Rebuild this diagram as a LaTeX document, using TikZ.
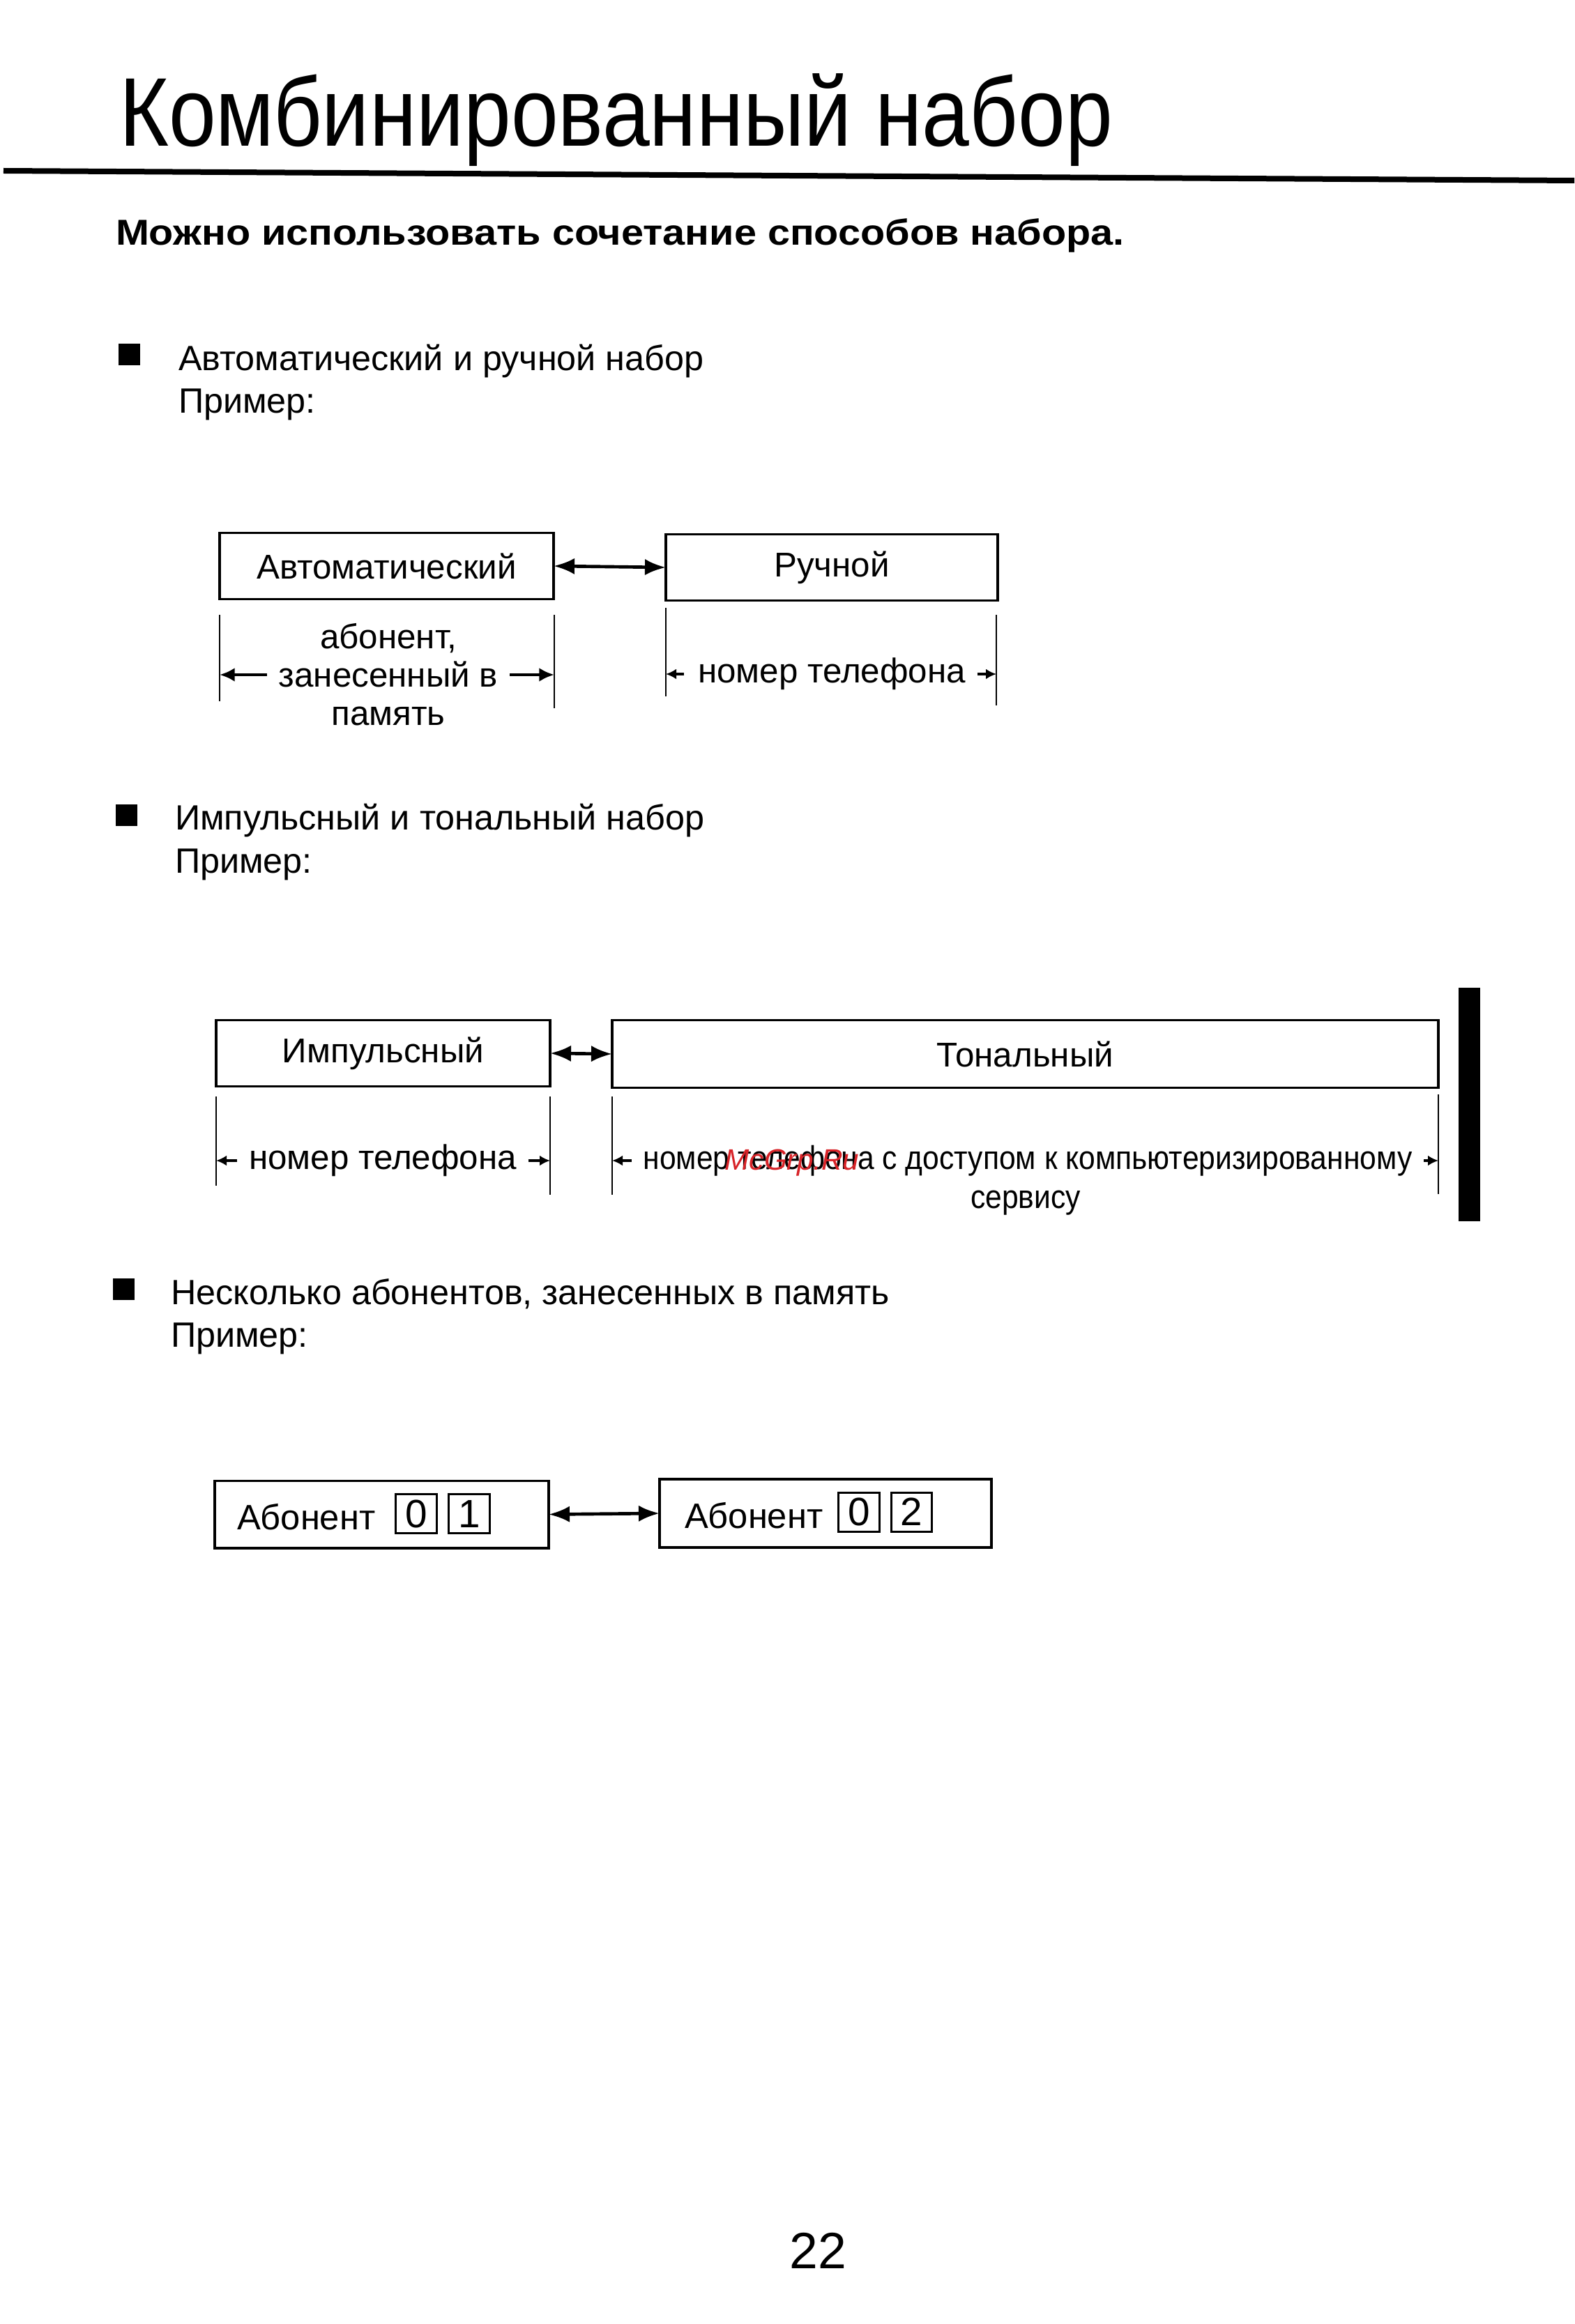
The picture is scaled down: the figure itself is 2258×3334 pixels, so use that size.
\documentclass[tikz,border=0pt]{standalone}
\usepackage{fontspec}
\setmainfont{Liberation Sans}
\newfontfamily\titlefont[FakeStretch=0.87]{Liberation Sans}
\newfontfamily\subfont[FakeStretch=1.115]{Liberation Sans}
\newfontfamily\narrowfont[FakeStretch=0.9]{Liberation Sans}
\usetikzlibrary{arrows.meta}
\definecolor{wmred}{RGB}{215,35,40}
\newcommand{\boxfs}{\fontsize{14.8}{17}\selectfont}
\newcommand{\bodyfs}{\fontsize{15.1}{18}\selectfont}
\begin{document}
\begin{tikzpicture}[x=0.3pt,y=-0.3pt,
  every node/.style={inner sep=0pt, outer sep=0pt},
  frame/.style={draw, line width=1pt, font=\boxfs},
  bodytxt/.style={anchor=base west, font=\bodyfs},
  sq/.style={fill=black, minimum size=9.3pt},
  vline/.style={line width=0.7pt},
  link/.style={line width=1.4pt, {Latex[length=9pt,width=7pt]}-{Latex[length=9pt,width=7pt]}},
  dimlong/.style={line width=1.3pt, -{Latex[length=6.5pt,width=6pt]}},
  dimshort/.style={line width=1.2pt, -{Latex[length=4.5pt,width=4.5pt]}},
  keybox/.style={draw, line width=0.9pt, minimum width=17.6pt, minimum height=16.8pt, font=\fontsize{17}{19}\selectfont}
]
\useasboundingbox (0,0) rectangle (2258,3334);

% title
\node[anchor=base west, font=\titlefont\fontsize{42}{48}\selectfont] (title) at (171,210) {Комбинированный набор};
\coordinate (ruleL) at (5,245);
\coordinate (ruleR) at (2258,259);
\draw[line width=2.4pt] (ruleL) -- (ruleR);
\node[anchor=base west, font=\subfont\bfseries\fontsize{15.5}{18}\selectfont] (sub) at (166,352) {Можно использовать сочетание способов набора.};

% section 1
\node[sq] (b1) at (185,509) {};
\node[bodytxt] (h1) at (256,531) {Автоматический и ручной набор};
\node[bodytxt] (e1) at (256,593) {Пример:};

\node[frame, minimum width=143.7pt, minimum height=28.4pt] (A1) at (554.5,812) {Автоматический};
\node[frame, minimum width=142.8pt, minimum height=28.4pt] (R1) at (1193,814) {Ручной};
\draw[link] (A1.east) -- (R1.west);

\coordinate (vA1t) at (315,882); \coordinate (vA1b) at (315,1006);
\coordinate (vA2t) at (795,882); \coordinate (vA2b) at (795,1016);
\coordinate (vR1t) at (955,872); \coordinate (vR1b) at (955,999);
\coordinate (vR2t) at (1429,882); \coordinate (vR2b) at (1429,1012);
\draw[vline] (vA1t) -- (vA1b);
\draw[vline] (vA2t) -- (vA2b);
\draw[vline] (vR1t) -- (vR1b);
\draw[vline] (vR2t) -- (vR2b);

\node[align=center, font=\fontsize{14.8}{16.5}\selectfont] (dA) at (557,968) {абонент,\\занесенный в\\память};
\draw[dimlong] ([xshift=-5pt]dA.west) -- (dA.west -| vA1t);
\draw[dimlong] ([xshift=5pt]dA.east) -- (dA.east -| vA2t);

\node[font=\boxfs] (dR) at (1193,967) {номер телефона};
\draw[dimshort] ([xshift=-6pt]dR.west) -- (dR.west -| vR1t);
\draw[dimshort] ([xshift=5pt]dR.east) -- (dR.east -| vR2t);

% section 2
\node[sq] (b2) at (181,1169) {};
\node[bodytxt] (h2) at (251,1190) {Импульсный и тональный набор};
\node[bodytxt] (e2) at (251,1252) {Пример:};

\node[frame, minimum width=143.7pt, minimum height=28.5pt] (I1) at (549.5,1511) {Импульсный};
\node[frame, minimum width=355.5pt, minimum height=29pt] (T1) at (1470.5,1512) {Тональный};
\draw[link] (I1.east) -- (T1.west);

\coordinate (vI1t) at (310,1573); \coordinate (vI1b) at (310,1701);
\coordinate (vI2t) at (789,1573); \coordinate (vI2b) at (789,1714);
\coordinate (vT1t) at (878,1573); \coordinate (vT1b) at (878,1714);
\coordinate (vT2t) at (2063,1570); \coordinate (vT2b) at (2063,1713);
\draw[vline] (vI1t) -- (vI1b);
\draw[vline] (vI2t) -- (vI2b);
\draw[vline] (vT1t) -- (vT1b);
\draw[vline] (vT2t) -- (vT2b);

\node[font=\boxfs] (dI) at (549,1665) {номер телефона};
\draw[dimshort] ([xshift=-5pt]dI.west) -- (dI.west -| vI1t);
\draw[dimshort] ([xshift=5pt]dI.east) -- (dI.east -| vI2t);

\node[font=\narrowfont\fontsize{14.2}{17}\selectfont] (dT) at (1474,1665) {номер телефона с доступом к компьютеризированному};
\node[font=\narrowfont\fontsize{14.2}{17}\selectfont] (dT2) at (1471,1726) {сервису};
\draw[dimshort] ([xshift=-5pt]dT.west) -- (dT.west -| vT1t);
\draw[dimshort] ([xshift=5pt]dT.east) -- (dT.east -| vT2t);

\node[text=wmred, font=\itshape\fontsize{12.7}{15}\selectfont] (wm) at (1136,1668) {McGrp.Ru};

\node[fill=black, minimum width=9.3pt, minimum height=100.5pt] (bar) at (2107.5,1584.5) {};

% section 3
\node[sq] (b3) at (177,1849) {};
\node[bodytxt] (h3) at (245,1871) {Несколько абонентов, занесенных в память};
\node[bodytxt] (e3) at (245,1932) {Пример:};

\node[frame, minimum width=143.7pt, minimum height=29pt] (S1) at (547.5,2172.5) {};
\node[frame, minimum width=142.8pt, minimum height=29.4pt] (S2) at (1184,2171) {};
\node[anchor=west, font=\fontsize{15.2}{17}\selectfont] (S1t) at (340,2176) {Абонент};
\node[anchor=west, font=\fontsize{15.2}{17}\selectfont] (S2t) at (982,2174) {Абонент};
\node[keybox] (k10) at (597,2171.5) {0};
\node[keybox] (k11) at (673,2171.5) {1};
\node[keybox] (k20) at (1232,2169) {0};
\node[keybox] (k22) at (1307.5,2169) {2};
\draw[link] (S1.east) -- (S2.west);

% page number
\node[font=\fontsize{22}{26}\selectfont] (pg) at (1173,3229) {22};
\end{tikzpicture}
\end{document}
